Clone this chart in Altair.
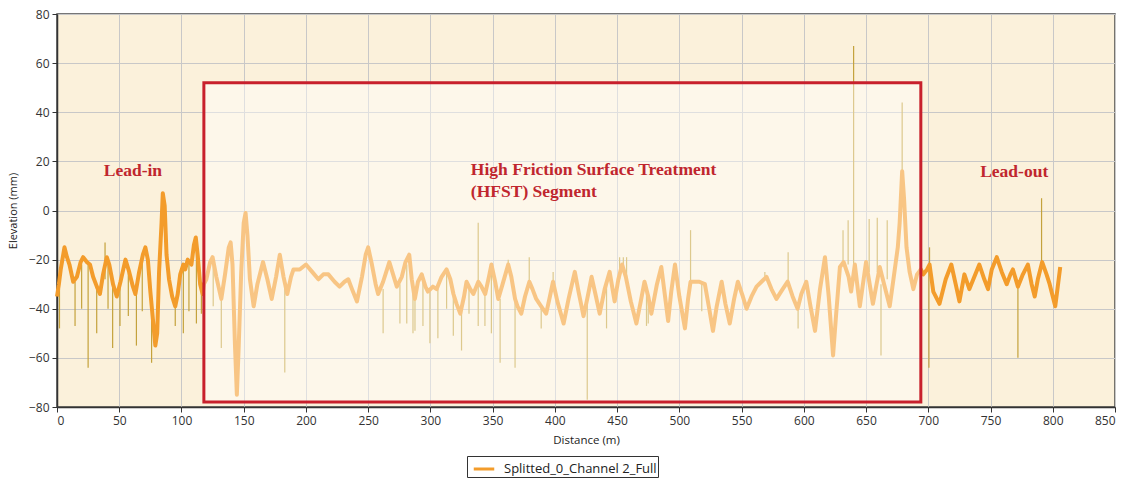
import altair as alt
import pandas as pd

# ---- main profile (distance m, elevation mm) ----
dist = [0, 1.5, 3, 6, 8, 10, 13, 16, 19, 21, 24, 26.5, 29, 32, 34.5, 37, 40, 42, 45, 48, 51, 55, 58, 61, 63, 66, 69, 71, 73, 75, 77, 79, 80.5, 82, 84, 85, 86.5, 88, 90, 92.5, 95, 97, 99, 101.5, 103, 105, 108, 110, 111.5, 113, 115, 117,
        118, 120, 123, 125, 128, 132, 135, 138, 139.5, 141, 143, 144.5, 146, 148, 150, 151.5, 153, 155, 158, 161, 165.5, 169, 172.5, 176, 179, 182, 185, 188, 190, 195, 200, 205, 210, 214, 218, 223, 227, 231, 234, 237, 241, 245, 248, 250, 253, 256, 258, 262, 267, 270, 273, 277, 280, 283, 285, 287.5, 290, 293, 296, 298, 302, 305, 309, 313, 316, 318.5, 321, 324, 327, 329, 332, 334.5, 338.5, 341, 344, 347, 349, 352, 354.5, 358, 362.5, 365, 368, 370, 373, 376, 379.5, 382, 385, 389, 393, 396, 398.5, 402, 407, 411, 416, 419, 423, 426, 429.5, 433, 436, 440, 444, 448, 451, 454, 457, 461, 465.5, 469, 472, 475, 477.5, 482, 485.5, 488, 491, 493.5, 496.5, 500, 504.5, 507, 509, 512.5, 516, 520.5, 524, 527, 530, 534, 537, 540.5, 544, 547, 551, 554, 558, 562, 566, 570, 574, 578, 583, 587, 591, 595, 598, 602, 605, 609, 613, 617, 620, 623.5, 626, 629, 632, 636, 638, 641, 645, 650, 655.5, 661, 665, 669, 672, 675.5, 677, 679, 680.5, 682.5, 685, 688, 691, 694,
        696, 699, 701, 704, 709, 714, 718.5, 722, 725, 729, 733, 737, 741, 745, 748, 751, 755, 759, 763, 766, 768, 772, 776, 780, 783, 785.5, 788, 791.5, 795, 797.5, 800, 802, 804, 806]
elev = [-35, -30, -24, -15, -19, -22, -29, -27, -21, -19, -21, -22, -27, -31, -34, -26, -19, -22, -30, -35, -29, -20, -25, -31, -34, -25, -18, -15, -20, -33, -44, -55, -50, -25, -5, 7, 2, -18, -28, -35, -39, -34, -26, -22, -24, -20, -22, -14, -11, -18, -30, -34,
        -30, -28, -21, -19, -27, -36, -26, -15, -13, -22, -55, -75, -55, -25, -5, -1, -10, -28, -39, -30, -21, -28, -36, -27, -18, -27, -34, -27, -24, -24, -22, -25, -28, -26, -26, -29, -31, -29, -28, -32, -37, -27, -18, -15, -22, -30, -34, -29, -21, -26, -31, -27, -21, -18, -28, -36, -29, -26, -31, -33, -31, -32, -27, -24, -28, -34, -38, -42, -35, -29, -32, -34, -29, -31, -34, -27, -22, -29, -36, -30, -22, -27, -36, -39, -42, -35, -29, -32, -36, -39, -42, -35, -29, -37, -46, -36, -25, -33, -43, -36, -27, -35, -42, -32, -25, -37, -28, -22, -27, -37, -46, -37, -29, -35, -42, -30, -23, -33, -45, -33, -22, -35, -48, -36, -29, -29, -29, -30, -40, -49, -39, -29, -38, -46, -36, -29, -35, -40, -35, -31, -29, -27, -32, -36, -32, -29, -35, -40, -34, -29, -38, -49, -32, -19, -35, -59, -42, -23, -21, -27, -33, -22, -39, -21, -38, -23, -31, -39, -28, -15, -5, 16, 5, -15, -25, -32, -26, -24,
        -26, -24, -22, -33, -38, -28, -22, -30, -37, -26, -32, -27, -22, -28, -32, -24, -19, -25, -30, -26, -24, -31, -26, -22, -30, -35, -28, -21, -26, -30, -35, -39, -31, -23]

# ---- narrow spikes: distance, base elevation, tip elevation ----
spike_x = [2, 14.5, 19.8, 25, 31.9, 38.6, 41, 44.7, 50.6, 57.3, 63.8, 68.5, 76, 95, 101.5, 106, 112, 116,
           125.5, 132, 183, 262, 275.5, 281, 286, 287.6, 294, 299.6, 306, 313, 318.4, 325, 331, 338.4, 338.4, 343.8, 349, 356, 362.5, 368, 379.4, 389, 398.6, 426, 441.5, 452, 455, 457.6, 473.6, 475, 509, 518, 568.7, 587.4, 595.4,
           631.5, 635.6, 640, 652.5, 659, 662, 667, 679,
           700.5, 701, 772, 791]
spike_base = [-32, -29, -22, -21, -31, -28, -20, -28, -30, -24, -33, -20, -38, -38, -22, -21, -13, -33,
              -20, -35, -30, -32, -30, -22, -30, -34, -26, -33, -32, -24, -34, -40, -30, -29, -29, -34, -22, -36, -22, -36, -29, -39, -29, -36, -30, -28, -22, -27, -30, -35, -29, -29, -27, -29, -40,
              -22, -22, -22, -25, -25, -30, -28, 16,
              -24, -24, -31, -21]
spike_tip = [-48, -47, -40, -64, -50, -13, -40, -56, -47, -43, -55, -41, -62, -47, -50, -41, -46, -42,
             -39, -56, -66, -50, -46, -46, -50, -49, -47, -54, -52, -40, -51, -57, -42, -5, -47, -47, -50, -62, -20, -64, -19, -48, -25, -77, -48, -19, -19, -19, -47, -46, -8, -41, -25, -17, -48,
             -8, -4, 67, -3.5, -3, -59, -4, 44,
             -64, -15, -60, 5]

# ---- HFST box and annotations ----
box_x = [118, 694]
box_y = [-78, 52]
note_text = ["Lead-in", "High Friction Surface Treatment", "(HFST) Segment", "Lead-out"]
note_x = [61, 332.5, 332.5, 769]
note_y = [16, 16.5, 7.5, 15.7]
note_align = ["center", "left", "left", "center"]

series_name = "Splitted_0_Channel 2_Full"
x_ticks = list(range(0, 851, 25))
y_ticks = list(range(-80, 81, 10))

line_df = pd.DataFrame({"d": dist, "e": elev, "series": series_name})
spike_df = pd.DataFrame({"d": spike_x, "b": spike_base, "t": spike_tip})
box_df = pd.DataFrame({"x": [box_x[0]], "x2": [box_x[1]], "y": [box_y[0]], "y2": [box_y[1]]})
note_df = pd.DataFrame({"txt": note_text, "d": note_x, "e": note_y, "al": note_align})

xs = alt.Scale(domain=[0, 850], nice=False, zero=False)
ys = alt.Scale(domain=[-80, 80], nice=False, zero=False)

x_axis = alt.Axis(
    values=x_ticks, title="Distance (m)",
    labelExpr="datum.value % 50 === 0 ? datum.label : ''",
    tickSize={"condition": {"test": "datum.value % 50 === 0", "value": 5}, "value": 3},
    gridOpacity={"condition": {"test": "datum.value % 50 === 0", "value": 1}, "value": 0},
    labelFontSize=12, titleFontSize=11.5, titlePadding=8, labelPadding=3,
)
y_axis = alt.Axis(
    values=y_ticks, title="Elevation (mm)",
    labelExpr="datum.value % 20 === 0 ? datum.label : ''",
    tickSize={"condition": {"test": "datum.value % 20 === 0", "value": 5}, "value": 3},
    gridOpacity={"condition": {"test": "datum.value % 20 === 0", "value": 1}, "value": 0},
    labelFontSize=12, titleFontSize=11, titlePadding=10, labelPadding=3,
)

spikes = alt.Chart(spike_df).mark_rule(color="#C4A23C", strokeWidth=1.2).encode(
    x=alt.X("d:Q", scale=xs, axis=x_axis),
    y=alt.Y("b:Q", scale=ys, axis=y_axis),
    y2="t:Q",
)

line = alt.Chart(line_df).mark_line(strokeWidth=4, strokeJoin="round").encode(
    x=alt.X("d:Q", scale=xs),
    y=alt.Y("e:Q", scale=ys),
    color=alt.Color("series:N", scale=alt.Scale(range=["#F39C2B"]),
                    legend=alt.Legend(title=None, orient="none", legendX=410, legendY=442,
                                      strokeColor="#333", fillColor="white", padding=1,
                                      symbolType="stroke", symbolStrokeWidth=3, symbolSize=420,
                                      labelFontSize=13, labelColor="#222", labelFont="Open Sans",
                                      symbolOffset=4, labelOffset=8)),
)

veil = alt.Chart(box_df).mark_rect(fill="white", fillOpacity=0.42).encode(
    x="x:Q", x2="x2:Q", y="y:Q", y2="y2:Q")

frame = alt.Chart(box_df).mark_rect(fillOpacity=0, stroke="#C8202C", strokeWidth=3).encode(
    x="x:Q", x2="x2:Q", y="y:Q", y2="y2:Q")

notes_c = alt.Chart(note_df[note_df.al == "center"]).mark_text(
    font="Liberation Serif", fontWeight="bold", fontSize=17.5, color="#C0262E",
    baseline="middle", align="center").encode(x="d:Q", y="e:Q", text="txt:N")
notes_l = alt.Chart(note_df[note_df.al == "left"]).mark_text(
    font="Liberation Serif", fontWeight="bold", fontSize=17.5, color="#C0262E",
    baseline="middle", align="left").encode(x="d:Q", y="e:Q", text="txt:N")

chart = alt.layer(spikes, line, veil, frame, notes_c, notes_l).properties(
    width=1058, height=393,
    autosize=alt.AutoSizeParams(type="none"),
    padding={"left": 57, "top": 14, "right": 21, "bottom": 73},
    background="white",
).configure_view(
    fill="#FBF1DB", stroke="#4A4A4A", strokeWidth=1.5,
).configure_axis(
    gridColor="#C8C8C8", gridWidth=1, domainColor="#333", tickColor="#333",
    labelColor="#333", titleColor="#222", labelFont="Open Sans", titleFont="Open Sans",
    titleFontWeight="normal", domainWidth=1.5,
)

chart.save("out.html", embed_options={"renderer": "svg", "actions": False})
